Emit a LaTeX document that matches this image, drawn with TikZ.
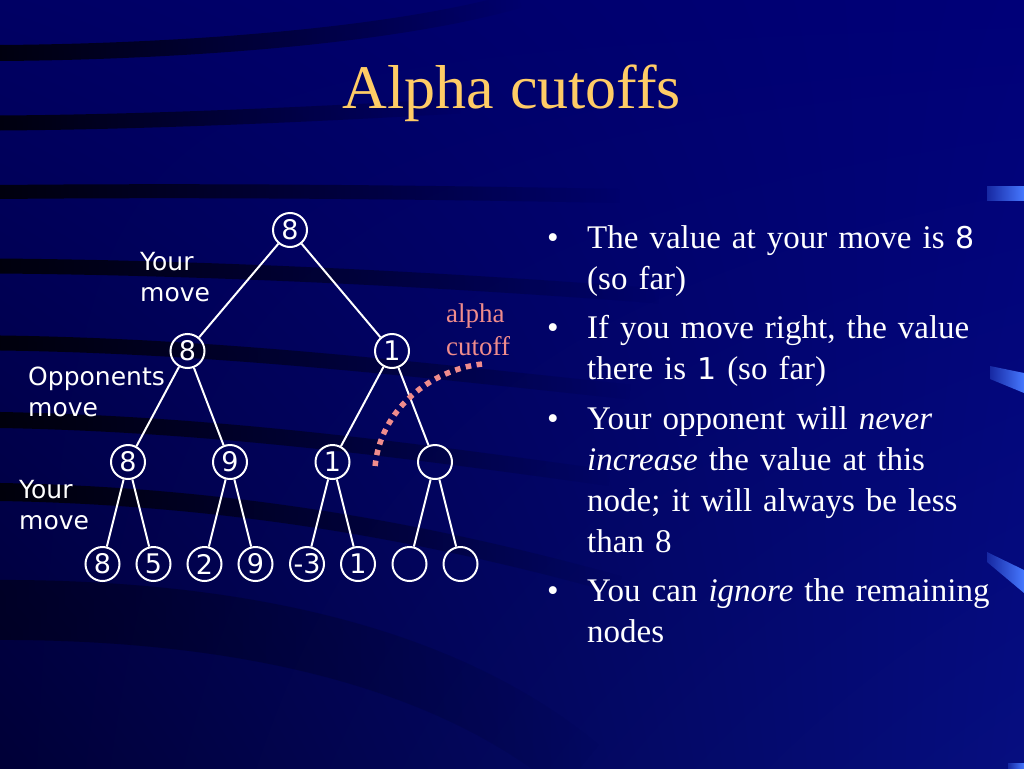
\documentclass[tikz,border=0pt]{standalone}
\usepackage{fontspec}
\setmainfont{Liberation Serif}
\newfontfamily\verd{DejaVu Sans}
\usetikzlibrary{positioning,fadings,shadings}

\definecolor{bgul}{RGB}{0,0,100}
\definecolor{bgur}{RGB}{0,0,120}
\definecolor{bgll}{RGB}{0,0,55}
\definecolor{bglr}{RGB}{6,14,128}
\definecolor{bgright}{RGB}{2,6,122}
\definecolor{barblue}{RGB}{70,120,255}
\definecolor{titlegold}{RGB}{255,204,102}
\definecolor{cutpink}{RGB}{240,140,140}

\tikzfading[name=fade right, left color=transparent!15, right color=transparent!100]

\begin{document}
\begin{tikzpicture}[
    x=1pt, y=-1pt,
    on grid,
    vnode/.style={circle, draw=white, line width=2pt, minimum size=34pt, inner sep=0pt, text=white, font=\verd\fontsize{27}{27}\selectfont},
    treeline/.style={white, line width=2pt},
    movelabel/.style={anchor=base west, inner sep=0pt, text=white, text width=160pt, align=left, font=\verd\fontsize{25}{31}\selectfont},
    cutlabel/.style={anchor=base west, inner sep=0pt, text=cutpink, text width=90pt, align=left, font=\fontsize{27}{33}\selectfont},
    bullettext/.style={anchor=base west, inner sep=0pt, text=white, text width=430pt, align=left, font=\fontsize{33}{41}\selectfont},
    bulletdot/.style={anchor=base, inner sep=0pt, text=white, font=\fontsize{33}{41}\selectfont},
    band/.style={black, line cap=butt, path fading=fade right},
    bluebar/.style={left color=barblue!30!bgright, right color=barblue}
]
\useasboundingbox (0,0) rectangle (1024,768);

% 背景
\shade[upper left=bgul, upper right=bgur, lower left=bgll, lower right=bglr] (0,0) rectangle (1024,768);
\draw[band, line width=16pt] (0,53) .. controls (150,52) and (380,40) .. (520,0);
\draw[band, line width=15pt] (0,123) .. controls (150,122) and (320,114) .. (460,106);
\draw[band, line width=14pt] (0,192) .. controls (200,190) and (420,192) .. (620,196);
\draw[band, line width=15pt] (0,266) .. controls (220,268) and (450,280) .. (660,296);
\draw[band, line width=15pt] (0,343) .. controls (220,346) and (420,370) .. (630,392);
\draw[band, line width=16pt] (0,420) .. controls (220,424) and (420,452) .. (610,478);
\draw[band, line width=18pt] (0,492) .. controls (230,496) and (430,532) .. (620,585);
\draw[band, line width=60pt, opacity=.5] (0,610) .. controls (250,610) and (450,660) .. (580,768);

% 右侧蓝条
\shade[bluebar] (987,186) rectangle (1024,200);
\shade[bluebar] (990,366) -- (1024,373) -- (1024,393) -- (990,379) -- cycle;
\shade[bluebar] (987,552) -- (1024,570) -- (1024,593) -- (987,562) -- cycle;
\shade[bluebar] (1008,763) rectangle (1024,768);

% 标题
\node[anchor=base, inner sep=0pt, text=titlegold, font=\fontsize{62}{62}\selectfont] (title) at (512,108) {Alpha cutoffs};

% 树节点
\node[vnode] (root) at (290,230) {8};
\node[vnode, below left=121pt and 102.5pt of root] (n1) {8};
\node[vnode, below right=121pt and 102pt of root] (n2) {1};
\node[vnode, below left=111pt and 59.5pt of n1] (n11) {8};
\node[vnode, below right=111pt and 42.5pt of n1] (n12) {9};
\node[vnode, below left=111pt and 59.5pt of n2] (n21) {1};
\node[vnode, below right=111pt and 43pt of n2] (n22) {};
\node[vnode, below left=102pt and 25.5pt of n11] (n111) {8};
\node[vnode, below right=102pt and 25.5pt of n11] (n112) {5};
\node[vnode, below left=102pt and 25.5pt of n12] (n121) {2};
\node[vnode, below right=102pt and 25.5pt of n12] (n122) {9};
\node[vnode, below left=102pt and 25.5pt of n21] (n211) {-3};
\node[vnode, below right=102pt and 25.5pt of n21] (n212) {1};
\node[vnode, below left=102pt and 25.5pt of n22] (n221) {};
\node[vnode, below right=102pt and 25.5pt of n22] (n222) {};

% 连接线
\draw[treeline] (root) -- (n1);
\draw[treeline] (root) -- (n2);
\draw[treeline] (n1) -- (n11);
\draw[treeline] (n1) -- (n12);
\draw[treeline] (n2) -- (n21);
\draw[treeline] (n2) -- (n22);
\draw[treeline] (n11) -- (n111);
\draw[treeline] (n11) -- (n112);
\draw[treeline] (n12) -- (n121);
\draw[treeline] (n12) -- (n122);
\draw[treeline] (n21) -- (n211);
\draw[treeline] (n21) -- (n212);
\draw[treeline] (n22) -- (n221);
\draw[treeline] (n22) -- (n222);

% 左侧标签
\node[movelabel] (move1) at (140,270) {Your\\move};
\node[movelabel] (move2) at (28,385) {Opponents\\move};
\node[movelabel] (move3) at (19,498) {Your\\move};

% alpha cutoff
\node[cutlabel] (cutlabel) at (446,322) {alpha\\cutoff};
\coordinate (cutstart) at (482,364);
\coordinate (cutend) at (375,467);
\draw[cutpink, line width=5.5pt, dash pattern=on 5.5pt off 5.5pt] (cutstart) .. controls (430,370) and (380,410) .. (cutend);

% 右侧文字
\node[bulletdot] (dot1) at (553,248) {\textbullet};
\node[bullettext] (text1) at (587,248) {The value at your move is {\verd\fontsize{30}{41}\selectfont 8}\\(so far)};
\node[bulletdot] (dot2) at (553,338) {\textbullet};
\node[bullettext] (text2) at (587,338) {If you move right, the value\\there is {\verd\fontsize{30}{41}\selectfont 1} (so far)};
\node[bulletdot] (dot3) at (553,429) {\textbullet};
\node[bullettext] (text3) at (587,429) {Your opponent will \textit{never}\\\textit{increase} the value at this\\node; it will always be less\\than 8};
\node[bulletdot] (dot4) at (553,601) {\textbullet};
\node[bullettext] (text4) at (587,601) {You can \textit{ignore} the remaining\\nodes};

\end{tikzpicture}
\end{document}
